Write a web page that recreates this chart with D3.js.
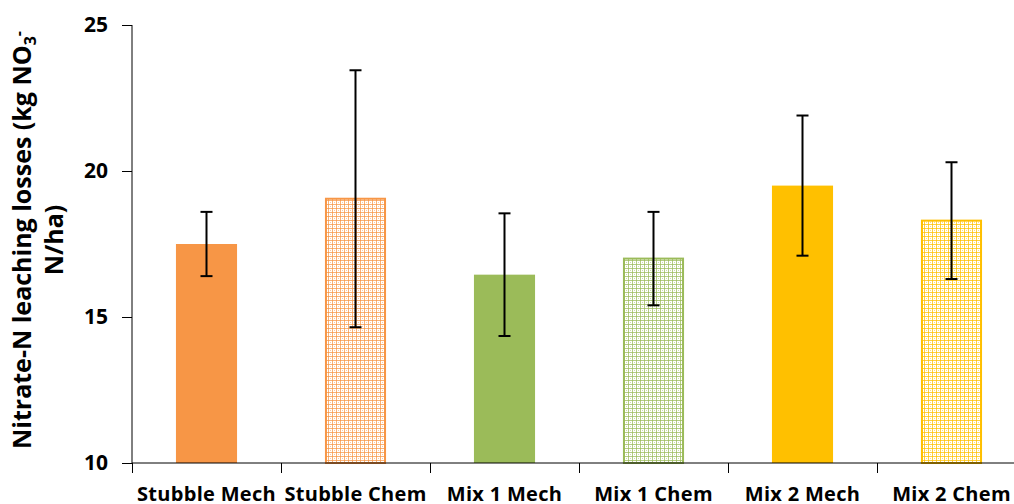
<!DOCTYPE html>
<html>
<head>
<meta charset="utf-8">
<script src="https://cdn.jsdelivr.net/npm/d3@7"></script>
<style>
  body { margin: 0; background: #fff; overflow: hidden; }
  text { font-family: "Open Sans", sans-serif; font-weight: bold; }
</style>
</head>
<body>
<div id="chart"></div>
<script>
var categories = ['Stubble Mech', 'Stubble Chem', 'Mix 1 Mech', 'Mix 1 Chem', 'Mix 2 Mech', 'Mix 2 Chem']
var values = [17.5, 19.05, 16.45, 17.0, 19.5, 18.3]
var errors = [1.1, 4.4, 2.1, 1.6, 2.4, 2.0]
var colors = ['#F79646', '#F79646', '#9BBB59', '#9BBB59', '#FFC000', '#FFC000']
var patterned = [false, true, false, true, false, true]
var yTicks = [10, 15, 20, 25]

var W = 1014,
    H = 504,
    pLeft = 132,
    pTop = 25,
    pBottom = 463,
    pRight = pLeft + 6 * 149

var svg = d3.select('#chart')
    .append('svg')
    .attr('width', W)
    .attr('height', H)

// patterns for the hatched bars
var defs = svg.append('defs')
colors.forEach(function (c, i) {
    if (!patterned[i]) return
    var pat = defs.append('pattern')
        .attr('id', 'pat' + i)
        .attr('patternUnits', 'userSpaceOnUse')
        .attr('width', 4)
        .attr('height', 4)
    pat.append('rect').attr('width', 4).attr('height', 4).attr('fill', '#fff')
    pat.append('rect').attr('width', 4).attr('height', 1).attr('fill', c).attr('opacity', 0.75)
    pat.append('rect').attr('width', 1).attr('height', 4).attr('fill', c).attr('opacity', 0.75)
    pat.append('rect').attr('x', 2).attr('y', 2).attr('width', 1).attr('height', 1).attr('fill', c).attr('opacity', 0.5)
})

var x = d3.scaleBand()
    .domain(categories)
    .range([pLeft, pRight])
    .paddingInner(0.59)
    .paddingOuter(0.295)

var xaxisScale = d3.scaleLinear().domain([0, 6]).range([pLeft, pRight])

var y = d3.scaleLinear()
    .domain([10, 25])
    .range([pBottom, pTop])

// bars
svg.selectAll('rect.bar')
    .data(categories)
    .enter()
    .append('rect')
    .attr('class', 'bar')
    .attr('x', (d, i) => x(d) + (patterned[i] ? 1 : 0))
    .attr('width', (d, i) => x.bandwidth() - (patterned[i] ? 2 : 0))
    .attr('y', (d, i) => y(values[i]))
    .attr('height', (d, i) => y(10) - y(values[i]))
    .attr('fill', (d, i) => patterned[i] ? 'url(#pat' + i + ')' : colors[i])
    .attr('stroke', (d, i) => patterned[i] ? colors[i] : 'none')
    .attr('stroke-width', 2)

// error bars
var eb = svg.selectAll('g.err')
    .data(categories)
    .enter()
    .append('g')
    .attr('class', 'err')
    .attr('transform', d => `translate(${x(d) + x.bandwidth() / 2},0)`)
eb.append('line')
    .attr('y1', (d, i) => y(values[i] + errors[i]))
    .attr('y2', (d, i) => y(values[i] - errors[i]))
    .attr('stroke', '#000').attr('stroke-width', 2)
eb.append('line')
    .attr('x1', -6).attr('x2', 6)
    .attr('y1', (d, i) => y(values[i] + errors[i]))
    .attr('y2', (d, i) => y(values[i] + errors[i]))
    .attr('stroke', '#000').attr('stroke-width', 2)
eb.append('line')
    .attr('x1', -6).attr('x2', 6)
    .attr('y1', (d, i) => y(values[i] - errors[i]))
    .attr('y2', (d, i) => y(values[i] - errors[i]))
    .attr('stroke', '#000').attr('stroke-width', 2)

// y axis
var yaxis = d3.axisLeft(y).tickValues(yTicks).tickSize(10).tickPadding(14)
var gy = svg.append('g')
    .attr('transform', `translate(${pLeft},0)`)
    .call(yaxis)
gy.select('.domain').attr('stroke', '#000').attr('d', `M0,${pTop}V${pBottom}`)
gy.selectAll('.tick line').attr('stroke', '#000')
gy.selectAll('.tick text')
    .style('font-size', '21px')
    .attr('fill', '#000')
    .attr('font-family', null)

// x axis
var xaxis = d3.axisBottom(xaxisScale).ticks(6).tickSize(10).tickFormat('')
var gx = svg.append('g')
    .attr('transform', `translate(0,${pBottom})`)
    .call(xaxis)
gx.select('.domain').attr('stroke', '#000').attr('d', `M${pLeft},0H${pRight}`)
gx.selectAll('.tick line').attr('stroke', '#000')

svg.selectAll('text.xlab')
    .data(categories)
    .enter()
    .append('text')
    .attr('class', 'xlab')
    .attr('x', d => x(d) + x.bandwidth() / 2)
    .attr('y', 501)
    .attr('text-anchor', 'middle')
    .style('font-size', '20px')
    .style('letter-spacing', '0.3px')
    .text(d => d)

// axis title
var title = svg.append('text')
    .attr('transform', 'translate(31,240) rotate(-90)')
    .attr('text-anchor', 'middle')
    .style('font-size', '25px')
title.append('tspan')
    .attr('x', 0).attr('dy', 0)
    .text('Nitrate-N leaching losses (kg NO')
title.append('tspan')
    .attr('dy', '0.3em').style('font-size', '16px')
    .text('3')
title.append('tspan')
    .attr('dy', '-0.75em').style('font-size', '16px')
    .text('-')
title.append('tspan')
    .attr('x', 0).attr('dy', '1.55em')
    .text('N/ha)')
</script>
</body>
</html>
